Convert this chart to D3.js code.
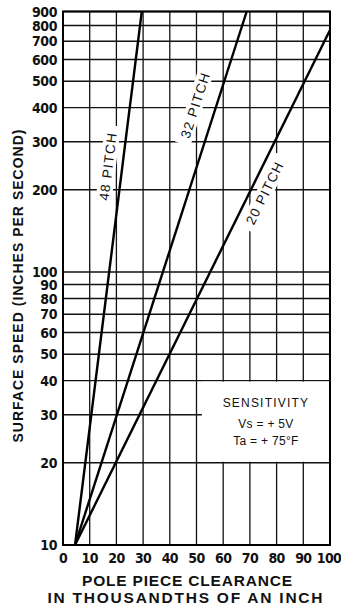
<!DOCTYPE html>
<html>
<head>
<meta charset="utf-8">
<script src="https://cdn.jsdelivr.net/npm/d3@7"></script>
<style>
  html, body { margin: 0; padding: 0; background: #fff; }
  svg { display: block; }
  .tick-label { font-family: "Liberation Sans Narrow", "DejaVu Sans Condensed", sans-serif; font-weight: bold; font-size: 14px; fill: #111; }
  .title { font-family: "Liberation Sans", Arial, sans-serif; fill: #111; }
</style>
</head>
<body>
<div id="chart"></div>
<script>
// data
var clearanceTicks = [0, 10, 20, 30, 40, 50, 60, 70, 80, 90, 100];
var speedTicks = [10, 20, 30, 40, 50, 60, 70, 80, 90, 100, 200, 300, 400, 500, 600, 700, 800, 900];
var pitchNames = ["48 PITCH", "32 PITCH", "20 PITCH"];
var pitch48 = [[4.5, 10], [29.5, 900]];
var pitch32 = [[4.5, 10], [68.8, 900]];
var pitch20 = [[4.5, 10], [100, 770]];
var noteLines = ["SENSITIVITY", "Vs = + 5V", "Ta = + 75\u00B0F"];

var width = 341, height = 611;
var plotLeft = 63, plotRight = 330, plotTop = 11.5, plotBottom = 545;

var svg = d3.select("#chart").append("svg")
    .attr("width", width)
    .attr("height", height);

var x = d3.scaleLinear().domain([0, 100]).range([plotLeft, plotRight]);
var y = d3.scaleLog().domain([10, 900]).range([plotBottom, plotTop]);

// grid
var grid = svg.append("g");
grid.selectAll(".hgrid")
    .data(speedTicks)
    .enter().append("line")
    .attr("x1", plotLeft).attr("x2", plotRight)
    .attr("y1", d => y(d)).attr("y2", d => y(d))
    .attr("stroke", "#111").attr("stroke-width", 1.4);
grid.selectAll(".vgrid")
    .data(clearanceTicks)
    .enter().append("line")
    .attr("x1", d => x(d)).attr("x2", d => x(d))
    .attr("y1", plotTop).attr("y2", plotBottom)
    .attr("stroke", "#111").attr("stroke-width", 1.3);

// white box for sensitivity note (covers grid)
svg.append("rect")
    .attr("x", x(52)).attr("y", y(40) + 1)
    .attr("width", x(100) - x(52)).attr("height", y(20) - y(40) - 2)
    .attr("fill", "#fff");

// pitch lines
var lineGen = d3.line().x(d => x(d[0])).y(d => y(d[1]));
var pitches = [pitch48, pitch32, pitch20];
svg.selectAll(".pitch")
    .data(pitches)
    .enter().append("path")
    .attr("d", lineGen)
    .attr("fill", "none")
    .attr("stroke", "#000")
    .attr("stroke-width", 2.4);

// pitch labels, rotated along each line, with white gap behind
var labelAt = [[16.8, 244], [49.5, 409], [75.5, 195]];
pitchNames.forEach(function (name, i) {
    var p = pitches[i];
    var ang = Math.atan2(y(p[1][1]) - y(p[0][1]), x(p[1][0]) - x(p[0][0])) * 180 / Math.PI;
    var cx = x(labelAt[i][0]), cy = y(labelAt[i][1]);
    var g = svg.append("g").attr("transform", "translate(" + cx + "," + cy + ") rotate(" + ang + ")");
    g.append("rect")
        .attr("x", -41).attr("y", -8)
        .attr("width", 82).attr("height", 16)
        .attr("fill", "#fff");
    g.append("text")
        .attr("class", "title")
        .attr("text-anchor", "middle")
        .attr("dy", "0.36em")
        .attr("font-size", 13.5)
        .attr("font-weight", 500)
        .attr("letter-spacing", 1.2)
        .text(name);
});

// frame
svg.append("rect")
    .attr("x", plotLeft).attr("y", plotTop)
    .attr("width", plotRight - plotLeft).attr("height", plotBottom - plotTop)
    .attr("fill", "none").attr("stroke", "#000").attr("stroke-width", 2);

// tick labels
svg.selectAll(".ylab")
    .data(speedTicks)
    .enter().append("text")
    .attr("class", "tick-label")
    .attr("x", plotLeft - 6)
    .attr("y", d => y(d))
    .attr("dy", "0.36em")
    .attr("text-anchor", "end")
    .attr("letter-spacing", -0.4)
    .text(d => d);
svg.selectAll(".xlab")
    .data(clearanceTicks)
    .enter().append("text")
    .attr("class", "tick-label")
    .attr("x", (d, i) => x(d) - (i == clearanceTicks.length - 1 ? 1 : 0))
    .attr("y", plotBottom + 18)
    .attr("text-anchor", "middle")
    .attr("letter-spacing", -0.6)
    .text(d => d);

// sensitivity note
svg.selectAll(".note")
    .data(noteLines)
    .enter().append("text")
    .attr("class", "title")
    .attr("x", x(76))
    .attr("y", (d, i) => [407, 428, 445][i])
    .attr("text-anchor", "middle")
    .attr("font-size", 12)
    .attr("letter-spacing", (d, i) => i == 0 ? 1.2 : 0.3)
    .text(d => d);

// axis titles
svg.append("text")
    .attr("class", "title")
    .attr("transform", "translate(23,286) rotate(-90)")
    .attr("text-anchor", "middle")
    .attr("font-size", 14)
    .attr("font-weight", "bold")
    .attr("textLength", 313)
    .text("SURFACE SPEED (INCHES PER SECOND)");
svg.append("text")
    .attr("class", "title")
    .attr("x", 187).attr("y", 586)
    .attr("text-anchor", "middle")
    .attr("font-size", 15.5)
    .attr("font-weight", "bold")
    .attr("textLength", 210)
    .text("POLE PIECE CLEARANCE");
svg.append("text")
    .attr("class", "title")
    .attr("x", 185).attr("y", 603)
    .attr("text-anchor", "middle")
    .attr("font-size", 15.5)
    .attr("font-weight", "bold")
    .attr("textLength", 275)
    .text("IN THOUSANDTHS OF AN INCH");
</script>
</body>
</html>
